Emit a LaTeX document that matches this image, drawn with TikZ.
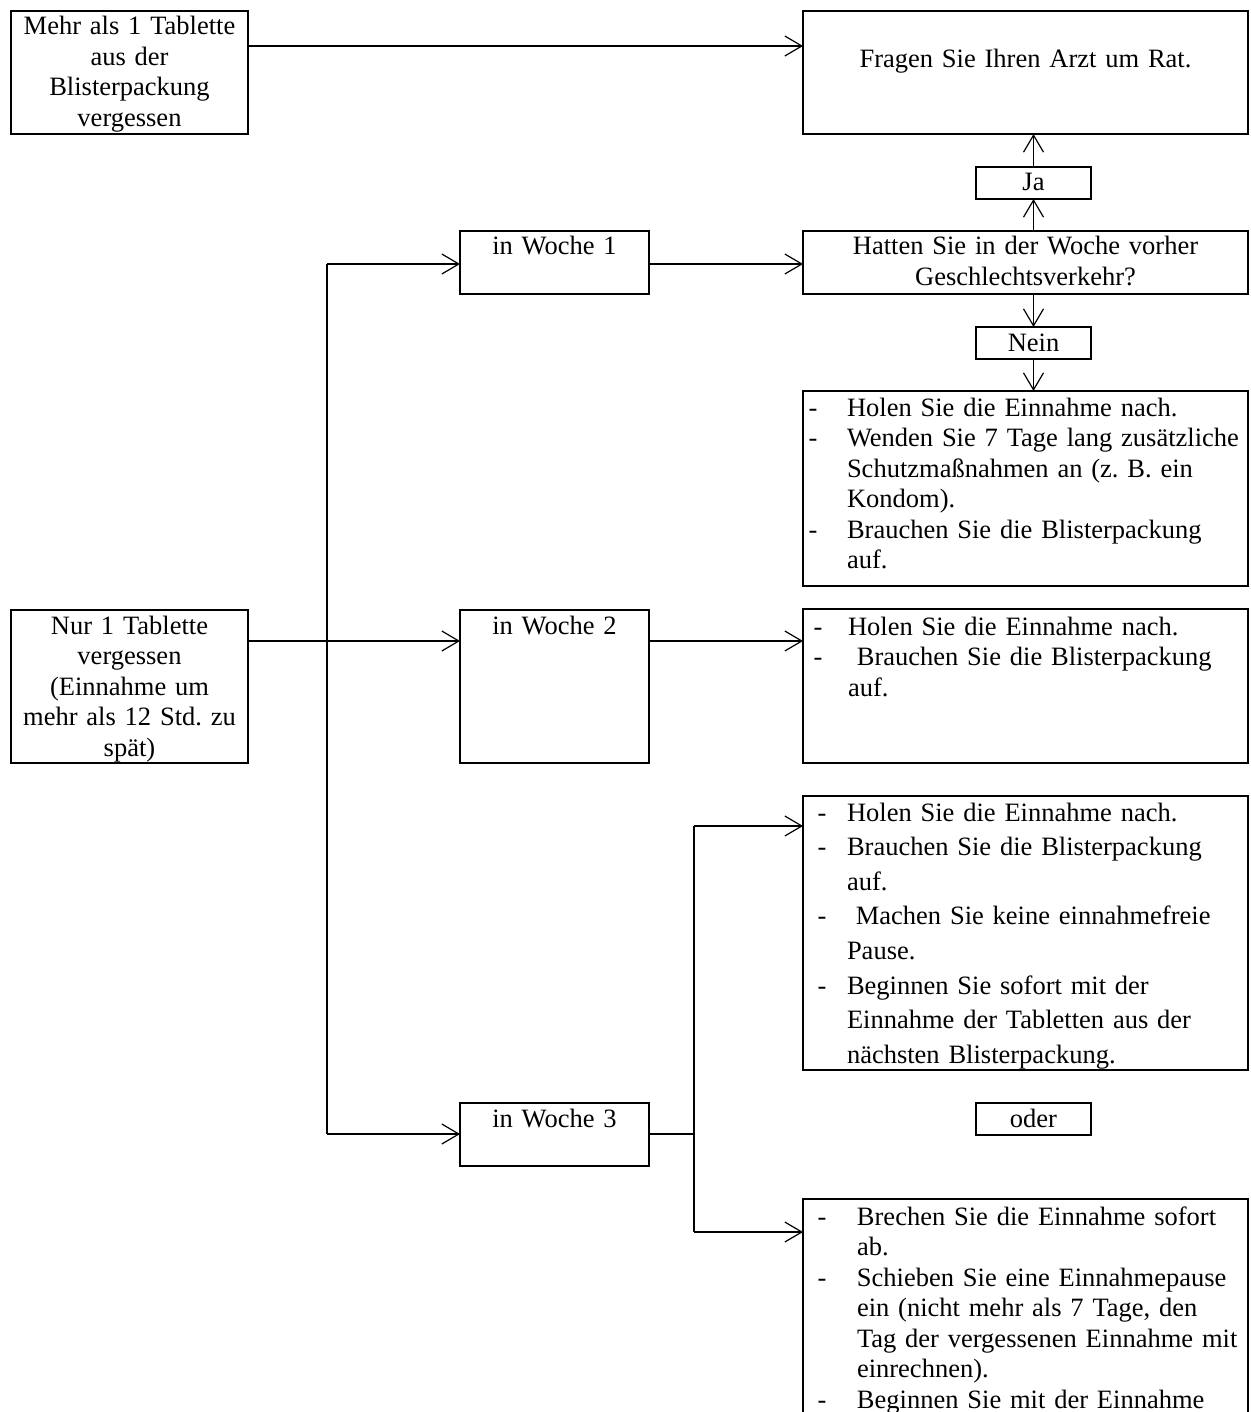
\documentclass[tikz,border=0pt]{standalone}
\usepackage{fontspec}
\setmainfont{Liberation Serif}
\usetikzlibrary{arrows.meta}

\tikzset{
  box/.style = {draw, line width=2.7pt, inner sep=0pt, outer sep=0pt, anchor=north west, align=center, text height=24pt},
  list/.style = {box, align=left},
  arr/.style = {-{Straight Barb[length=17pt, width=20pt, line width=1.2pt]}, line width=1.3pt},
  stem/.style = {line width=2.7pt},
}

\begin{document}
\frenchspacing
\begin{tikzpicture}[x=1pt, y=-1pt, font=\fontsize{26.5}{30.5}\selectfont]
		\clip (0,0) rectangle (1250,1412);

		\node (mehr) at (11,11) [box, text width=237pt, text depth=99pt] {Mehr als 1 Tablette\\aus der\\Blisterpackung\\vergessen};
		\node (fragen) at (803,11) [box, text width=445pt, text height=57pt, text depth=66pt] {Fragen Sie Ihren Arzt um Rat.};
		\node (ja) at (976,167) [box, text width=115pt, text depth=8pt] {Ja};
		\node (frage) at (803,231) [box, text width=445pt, text depth=39pt] {Hatten Sie in der Woche vorher\\Geschlechtsverkehr?};
		\node (nein) at (976,327) [box, text width=115pt, text depth=8pt] {Nein};
		\node (b1) at (803,391) [list, text width=445pt, text height=25pt, text depth=170pt] {\begin{tabular}[t]{@{\hspace{5.6pt}}p{38.4pt}@{}l@{}}
			-&Holen Sie die Einnahme nach.\\
			-&Wenden Sie 7 Tage lang zusätzliche\\
			 &Schutzmaßnahmen an (z.~B. ein\\
			 &Kondom).\\
			-&Brauchen Sie die Blisterpackung\\
			 &auf.\end{tabular}};

		\node (w1) at (460,231) [box, text width=189pt, text depth=39pt] {in Woche 1};
		\node (nur) at (11,610) [box, text width=237pt, text height=24pt, text depth=129pt] {Nur 1 Tablette\\vergessen\\(Einnahme um\\mehr als 12 Std. zu\\spät)};
		\node (w2) at (460,610) [box, text width=189pt, text height=24pt, text depth=129pt] {in Woche 2};
		\node (b2) at (803,609) [list, text width=445pt, text height=26pt, text depth=128pt] {\begin{tabular}[t]{@{\hspace{10.6pt}}p{34.4pt}@{}l@{}}
			-&Holen Sie die Einnahme nach.\\
			-&\ Brauchen Sie die Blisterpackung\\
			 &auf.\end{tabular}};

		\node (b3) at (803,796) [list, text width=445pt, text height=25pt, text depth=249pt, font=\fontsize{26.5}{34.6}\selectfont] {\begin{tabular}[t]{@{\hspace{14.6pt}}p{29.4pt}@{}l@{}}
			-&Holen Sie die Einnahme nach.\\
			-&Brauchen Sie die Blisterpackung\\
			 &auf.\\
			-&\ Machen Sie keine einnahmefreie\\
			 &Pause.\\
			-&Beginnen Sie sofort mit der\\
			 &Einnahme der Tabletten aus der\\
			 &nächsten Blisterpackung.\end{tabular}};
		\node (oder) at (976,1103) [box, text width=115pt, text depth=8pt] {oder};
		\node (w3) at (460,1103) [box, text width=189pt, text depth=39pt] {in Woche 3};
		\node (b4) at (803,1199) [list, text width=445pt, text height=26pt, text depth=234pt] {\begin{tabular}[t]{@{\hspace{14.6pt}}p{39.4pt}@{}l@{}}
			-&Brechen Sie die Einnahme sofort\\
			 &ab.\\
			-&Schieben Sie eine Einnahmepause\\
			 &ein (nicht mehr als 7 Tage, den\\
			 &Tag der vergessenen Einnahme mit\\
			 &einrechnen).\\
			-&Beginnen Sie mit der Einnahme\end{tabular}};

		% rows and forks of the connectors
		\coordinate (r0) at (0,46);
		\coordinate (r2) at (0,641);
		\coordinate (s1) at (327,264);
		\coordinate (s2) at (327,1134);
		\coordinate (f0) at (694,1134);
		\coordinate (f1) at (694,826);
		\coordinate (f2) at (694,1232);

		\draw [arr] (mehr.east |- r0) -- (fragen.west |- r0);
		\draw [arr] (ja.south |- frage.north) -- (ja.south);
		\draw [arr] (ja.north) -- (ja.north |- fragen.south);
		\draw [arr] (nein.north |- frage.south) -- (nein.north);
		\draw [arr] (nein.south) -- (nein.south |- b1.north);

		\draw [stem] (s1) -- (s2);
		\draw [arr] (s1) -- (w1.west |- s1);
		\draw [arr] (s2) -- (w3.west |- s2);
		\draw [arr] (nur.east |- r2) -- (w2.west |- r2);
		\draw [arr] (w1.east |- s1) -- (frage.west |- s1);
		\draw [arr] (w2.east |- r2) -- (b2.west |- r2);

		\draw [stem] (w3.east |- f0) -- (f0);
		\draw [stem] (f1) -- (f2);
		\draw [arr] (f1) -- (b3.west |- f1);
		\draw [arr] (f2) -- (b4.west |- f2);
\end{tikzpicture}
\end{document}
